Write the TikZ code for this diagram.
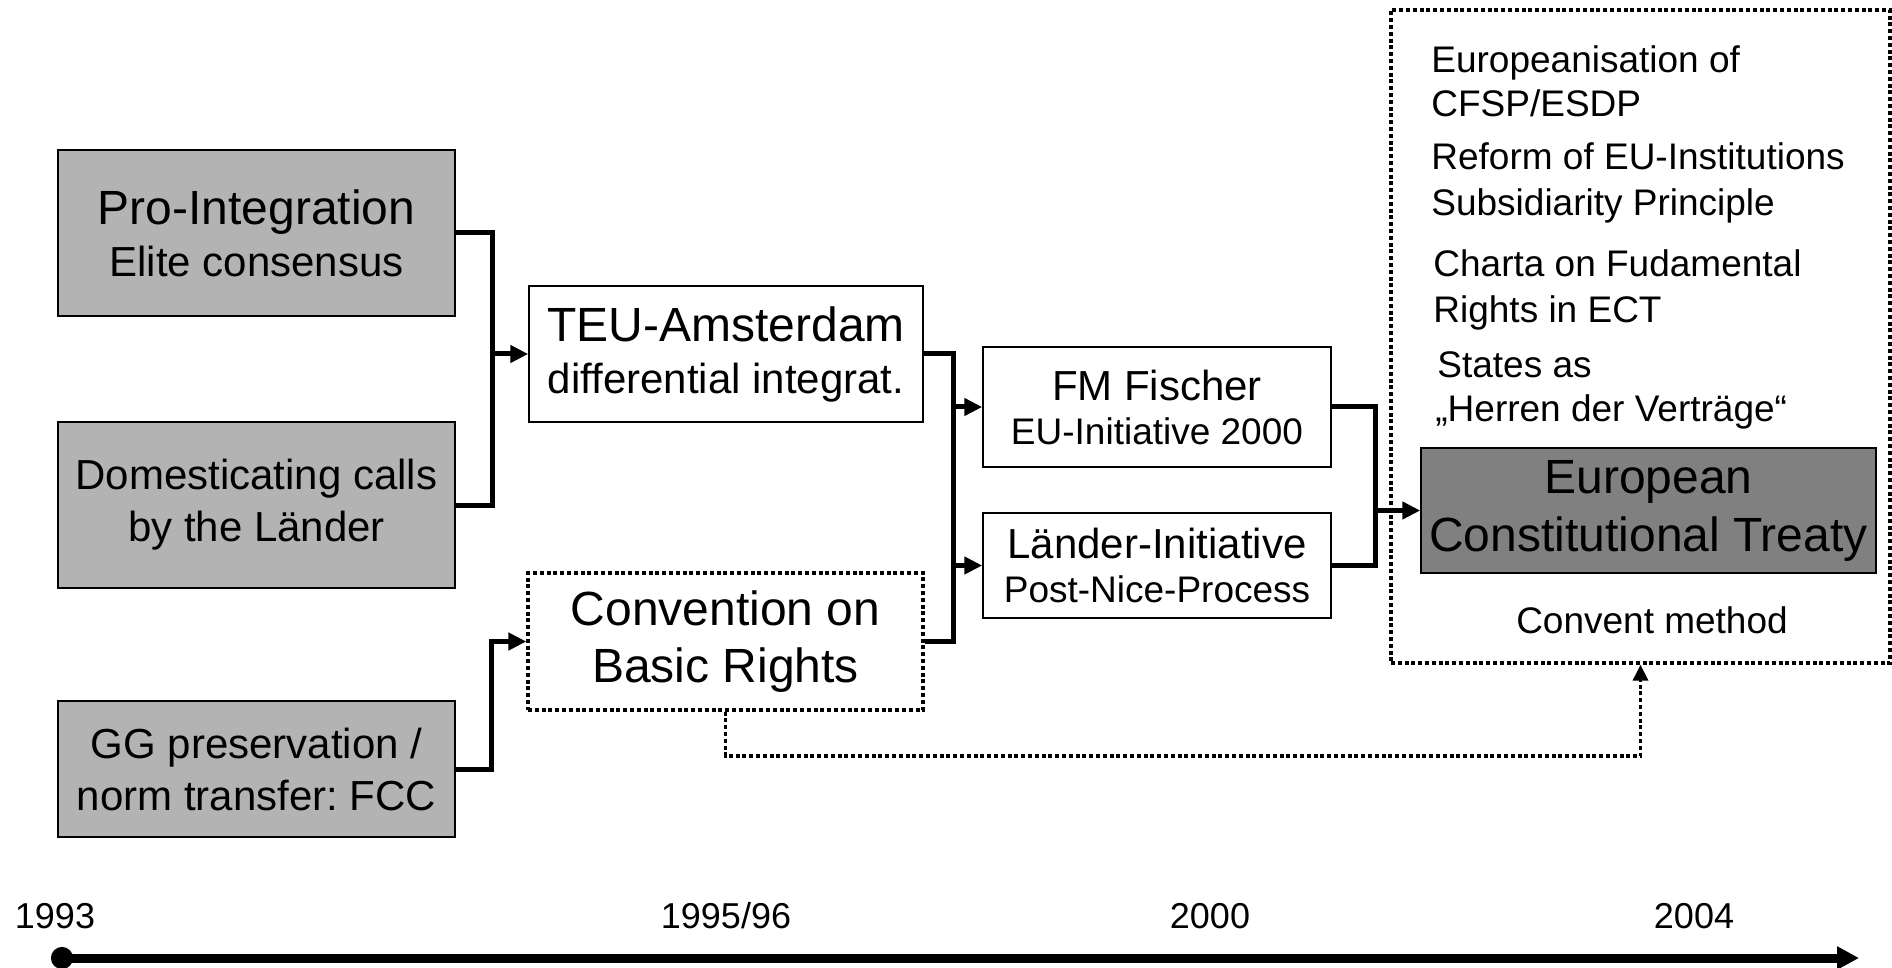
\documentclass[tikz,border=0pt]{standalone}
\usepackage{fontspec}
\setmainfont{Liberation Sans}
\usetikzlibrary{arrows.meta}
\frenchspacing

\definecolor{boxgrey}{HTML}{B3B3B3}
\definecolor{treatygrey}{HTML}{808080}

\tikzset{
  stage/.style={draw, line width=0.75pt, inner sep=0pt, align=center,
    font=\fontsize{21}{26}\selectfont},
  factor/.style={stage, fill=boxgrey, minimum width=198.5pt},
  dotline/.style={line width=1.65pt, dash pattern=on 2pt off 1.4pt},
  link/.style={line width=2.5pt},
  linkarrow/.style={link, -{Triangle[length=9pt,width=8.5pt]}},
  item/.style={anchor=base west, inner sep=0pt, font=\fontsize{18.5}{22}\selectfont},
  year/.style={anchor=base, inner sep=0pt, font=\fontsize{18}{22}\selectfont}
}
\newcommand{\boxhead}[2][24]{{\fontsize{#1}{26}\selectfont #2}}

\begin{document}
\begin{tikzpicture}[x=0.5pt, y=-0.5pt]
  \useasboundingbox (0,0) rectangle (1892,968);
  \node[factor, minimum height=83pt] (pro) at (256.5,233) {\boxhead{Pro-Integration}\\Elite consensus};
  \node[factor, minimum height=83pt] (dom) at (256.5,505) {Domesticating calls\\by the Länder};
  \node[factor, minimum height=68pt] (gg) at (256.5,769) {GG preservation /\\norm transfer: FCC};
  \node[stage, minimum width=197pt, minimum height=68pt] (teu) at (726,354) {\boxhead{TEU-Amsterdam}\\differential integrat.};
  \node[stage, dotline, minimum width=197.5pt, minimum height=68.5pt,
    font=\fontsize{24}{28.5}\selectfont] (conv) at (725.5,641.5) {Convention on\\Basic Rights};
  \node[stage, minimum width=174pt, minimum height=60pt,
    font=\fontsize{18.5}{22}\selectfont] (fm) at (1157,407) {\boxhead[21]{FM Fischer}\\EU-Initiative 2000};
  \node[stage, minimum width=174pt, minimum height=52.5pt,
    font=\fontsize{18.5}{22}\selectfont] (laender) at (1157,565.5) {\boxhead[21]{Länder-Initiative}\\Post-Nice-Process};
  \node[draw, dotline, inner sep=0pt, minimum width=249.5pt, minimum height=326.5pt] (frame) at (1640.5,336.5) {};
  \node[stage, fill=treatygrey, minimum width=227.5pt, minimum height=62.5pt,
    font=\fontsize{24}{29}\selectfont] (ect) at (1648.5,510.5) {European\\Constitutional Treaty};

  \foreach \tx/\ty/\txt [count=\i] in {1431/73/Europeanisation of, 1431/117/{CFSP/ESDP},
      1431/170/Reform of EU-Institutions, 1431/216/Subsidiarity Principle,
      1433/277/Charta on Fudamental, 1433/323/Rights in ECT,
      1437/378/States as, 1435/422/„Herren der Verträge“}
    \node[item] (item\i) at (\tx,\ty) {\txt};
  \node[item, anchor=base] (method) at (1652,633) {Convent method};

  \coordinate (j1) at (492,354);
  \coordinate (j2) at (491,641.5);
  \coordinate (j3) at (953,407);
  \coordinate (j4) at (953,565.5);
  \coordinate (j5) at (1375,510.5);
  \coordinate (dip) at (1640.5,756);

  \draw[link] (pro.east) -| (j1) |- (dom.east);
  \draw[linkarrow] (j1) -- (teu.west);
  \draw[linkarrow] (gg.east) -| (j2) -- (conv.west);
  \draw[link] (teu.east) -| (j3) -- (j4) |- (conv.east);
  \draw[linkarrow] (j3) -- (fm.west);
  \draw[linkarrow] (j4) -- (laender.west);
  \draw[link] (fm.east) -| (j5) |- (laender.east);
  \draw[linkarrow] (j5) -- (ect.west);
  \draw[dotline, -{Triangle[length=8pt,width=7.5pt]}] (conv.south) |- (dip) -- (frame.south);

  \foreach \yx/\yl [count=\i] in {55/1993, 726/{1995/96}, 1210/2000, 1694/2004}
    \node[year] (year\i) at (\yx,928) {\yl};
  \coordinate (t0) at (51,958);
  \coordinate (t1) at (1859,958);
  \draw[line width=4.5pt, {Circle[length=11pt]}-{Triangle[length=11pt,width=11pt]}] (t0) -- (t1);
\end{tikzpicture}
\end{document}
